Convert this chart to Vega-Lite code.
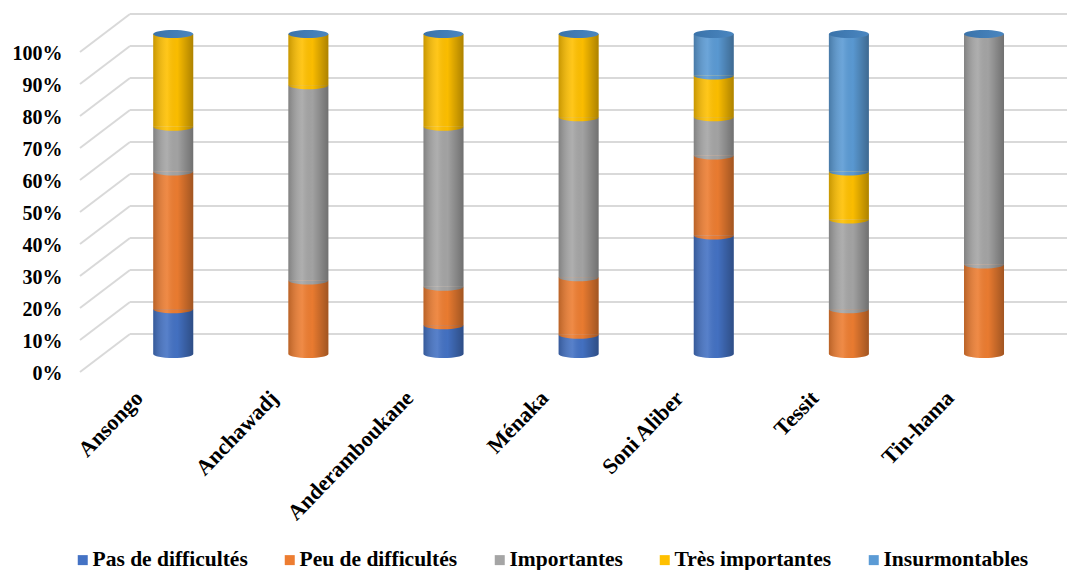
{
  "$schema": "https://vega.github.io/schema/vega-lite/v6.json",
  "width": 937,
  "height": 320,
  "autosize": {"type": "none"},
  "padding": {"left": 130, "top": 34, "right": 0, "bottom": 216},
  "background": "white",
  "datasets": {
    "enquete": [
      {"site": "Ansongo", "serie": "Pas de difficultés", "n": 1, "value": 14},
      {"site": "Ansongo", "serie": "Peu de difficultés", "n": 2, "value": 43},
      {"site": "Ansongo", "serie": "Importantes", "n": 3, "value": 14},
      {"site": "Ansongo", "serie": "Très importantes", "n": 4, "value": 29},
      {"site": "Ansongo", "serie": "Insurmontables", "n": 5, "value": 0},
      {"site": "Anchawadj", "serie": "Pas de difficultés", "n": 1, "value": 0},
      {"site": "Anchawadj", "serie": "Peu de difficultés", "n": 2, "value": 23},
      {"site": "Anchawadj", "serie": "Importantes", "n": 3, "value": 61},
      {"site": "Anchawadj", "serie": "Très importantes", "n": 4, "value": 16},
      {"site": "Anchawadj", "serie": "Insurmontables", "n": 5, "value": 0},
      {"site": "Anderamboukane", "serie": "Pas de difficultés", "n": 1, "value": 9},
      {"site": "Anderamboukane", "serie": "Peu de difficultés", "n": 2, "value": 12},
      {"site": "Anderamboukane", "serie": "Importantes", "n": 3, "value": 50},
      {"site": "Anderamboukane", "serie": "Très importantes", "n": 4, "value": 29},
      {"site": "Anderamboukane", "serie": "Insurmontables", "n": 5, "value": 0},
      {"site": "Ménaka", "serie": "Pas de difficultés", "n": 1, "value": 6},
      {"site": "Ménaka", "serie": "Peu de difficultés", "n": 2, "value": 18},
      {"site": "Ménaka", "serie": "Importantes", "n": 3, "value": 50},
      {"site": "Ménaka", "serie": "Très importantes", "n": 4, "value": 26},
      {"site": "Ménaka", "serie": "Insurmontables", "n": 5, "value": 0},
      {"site": "Soni Aliber", "serie": "Pas de difficultés", "n": 1, "value": 37},
      {"site": "Soni Aliber", "serie": "Peu de difficultés", "n": 2, "value": 25},
      {"site": "Soni Aliber", "serie": "Importantes", "n": 3, "value": 12},
      {"site": "Soni Aliber", "serie": "Très importantes", "n": 4, "value": 13},
      {"site": "Soni Aliber", "serie": "Insurmontables", "n": 5, "value": 13},
      {"site": "Tessit", "serie": "Pas de difficultés", "n": 1, "value": 0},
      {"site": "Tessit", "serie": "Peu de difficultés", "n": 2, "value": 14},
      {"site": "Tessit", "serie": "Importantes", "n": 3, "value": 28},
      {"site": "Tessit", "serie": "Très importantes", "n": 4, "value": 15},
      {"site": "Tessit", "serie": "Insurmontables", "n": 5, "value": 43},
      {"site": "Tin-hama", "serie": "Pas de difficultés", "n": 1, "value": 0},
      {"site": "Tin-hama", "serie": "Peu de difficultés", "n": 2, "value": 28},
      {"site": "Tin-hama", "serie": "Importantes", "n": 3, "value": 72},
      {"site": "Tin-hama", "serie": "Très importantes", "n": 4, "value": 0},
      {"site": "Tin-hama", "serie": "Insurmontables", "n": 5, "value": 0}
    ],
    "graduations": [
      {"v": 0}, {"v": 10}, {"v": 20}, {"v": 30}, {"v": 40}, {"v": 50},
      {"v": 60}, {"v": 70}, {"v": 80}, {"v": 90}, {"v": 100}
    ]
  },
  "config": {
    "view": {"stroke": null},
    "axisY": {
      "values": [0, 10, 20, 30, 40, 50, 60, 70, 80, 90, 100],
      "labelExpr": "datum.value + '%'",
      "grid": false,
      "domain": false,
      "ticks": false,
      "labelPadding": 68,
      "labelOffset": 19,
      "labelFont": "Liberation Serif",
      "labelFontWeight": "bold",
      "labelFontSize": 20,
      "labelColor": "#000000"
    },
    "axisX": {
      "grid": false,
      "domain": false,
      "ticks": false,
      "labelAngle": -46,
      "labelAlign": "right",
      "labelBaseline": "middle",
      "labelPadding": 40,
      "labelOffset": -34,
      "labelFont": "Liberation Serif",
      "labelFontWeight": "bold",
      "labelFontSize": 22,
      "labelColor": "#000000",
      "labelLimit": 0
    },
    "legend": {
      "orient": "none",
      "legendX": -58,
      "legendY": 515,
      "direction": "horizontal",
      "columns": 5,
      "padding": 0,
      "symbolType": "square",
      "symbolSize": 100,
      "symbolStrokeWidth": 0,
      "labelFont": "Liberation Serif",
      "labelFontWeight": "bold",
      "labelFontSize": 21.5,
      "labelColor": "#000000",
      "labelOffset": -1,
      "columnPadding": 31,
      "labelLimit": 0
    }
  },
  "layer": [
    {
      "data": {"name": "graduations"},
      "mark": {"type": "rule", "color": "#D9D9D9", "strokeWidth": 2, "yOffset": -20},
      "encoding": {
        "y": {"field": "v", "type": "quantitative", "title": null, "scale": {"domain": [0, 100], "nice": false}}
      }
    },
    {
      "data": {"name": "graduations"},
      "mark": {"type": "rule", "color": "#D9D9D9", "strokeWidth": 2, "xOffset": -50, "yOffset": 18, "y2Offset": -20},
      "encoding": {
        "x": {"value": 0},
        "x2": {"value": 0},
        "y": {"field": "v", "type": "quantitative", "title": null},
        "y2": {"field": "v"}
      }
    },
    {
      "data": {"name": "enquete"},
      "transform": [
        {"stack": "value", "groupby": ["site"], "sort": [{"field": "n", "order": "ascending"}], "as": ["y0", "y1"]},
        {"filter": "datum.value > 0"}
      ],
      "layer": [
        {
          "mark": {"type": "bar", "width": 40},
          "encoding": {
            "x": {
              "field": "site", "type": "nominal", "title": null,
              "scale": {
                "domain": ["Ansongo", "Anchawadj", "Anderamboukane", "Ménaka", "Soni Aliber", "Tessit", "Tin-hama"],
                "paddingInner": 0.7, "paddingOuter": 0.317, "align": 0.268
              }
            },
            "y": {"field": "y1", "type": "quantitative", "title": null},
            "y2": {"field": "y0"},
            "color": {
              "field": "serie", "type": "nominal", "title": null,
              "scale": {
                "domain": ["Pas de difficultés", "Peu de difficultés", "Importantes", "Très importantes", "Insurmontables"],
                "range": ["#4472C4", "#ED7D31", "#A5A5A5", "#FFC000", "#5B9BD5"]
              }
            }
          }
        },
        {
          "mark": {"type": "point", "shape": "M-1,0A1,0.2,0,0,0,1,0Z", "size": 1600, "filled": true, "opacity": 1, "strokeWidth": 0},
          "encoding": {
            "x": {"field": "site", "type": "nominal", "title": null},
            "y": {"field": "y0", "type": "quantitative", "title": null},
            "color": {"field": "serie", "type": "nominal", "title": null}
          }
        }
      ]
    },
    {
      "data": {"name": "enquete"},
      "transform": [
        {"aggregate": [{"op": "sum", "field": "value", "as": "total"}], "groupby": ["site"]}
      ],
      "layer": [
        {
          "mark": {
            "type": "bar", "width": 40,
            "fill": {
              "gradient": "linear", "x1": 0, "x2": 1, "y1": 0, "y2": 0,
              "stops": [
                {"offset": 0, "color": "rgba(0,0,0,0.22)"},
                {"offset": 0.35, "color": "rgba(255,255,255,0.10)"},
                {"offset": 0.6, "color": "rgba(0,0,0,0.02)"},
                {"offset": 1, "color": "rgba(0,0,0,0.32)"}
              ]
            }
          },
          "encoding": {
            "x": {"field": "site", "type": "nominal", "title": null},
            "y": {"field": "total", "type": "quantitative", "title": null}
          }
        },
        {
          "mark": {
            "type": "point", "shape": "M-1,0A1,0.2,0,0,0,1,0Z", "size": 1600, "filled": true, "opacity": 1, "strokeWidth": 0,
            "fill": {
              "gradient": "linear", "x1": 0, "x2": 1, "y1": 0, "y2": 0,
              "stops": [
                {"offset": 0, "color": "rgba(0,0,0,0.22)"},
                {"offset": 0.35, "color": "rgba(255,255,255,0.10)"},
                {"offset": 0.6, "color": "rgba(0,0,0,0.02)"},
                {"offset": 1, "color": "rgba(0,0,0,0.32)"}
              ]
            }
          },
          "encoding": {
            "x": {"field": "site", "type": "nominal", "title": null},
            "y": {"datum": 0, "type": "quantitative", "title": null}
          }
        },
        {
          "mark": {
            "type": "point", "shape": "M-1,0A1,0.2,0,0,0,1,0A1,0.2,0,0,0,-1,0Z", "size": 1600, "filled": true, "opacity": 1, "strokeWidth": 0,
            "fill": {
              "gradient": "linear", "x1": 0, "x2": 1, "y1": 0, "y2": 0,
              "stops": [
                {"offset": 0, "color": "#3A73AA"},
                {"offset": 1, "color": "#4A86C0"}
              ]
            }
          },
          "encoding": {
            "x": {"field": "site", "type": "nominal", "title": null},
            "y": {"field": "total", "type": "quantitative", "title": null}
          }
        }
      ]
    }
  ]
}
